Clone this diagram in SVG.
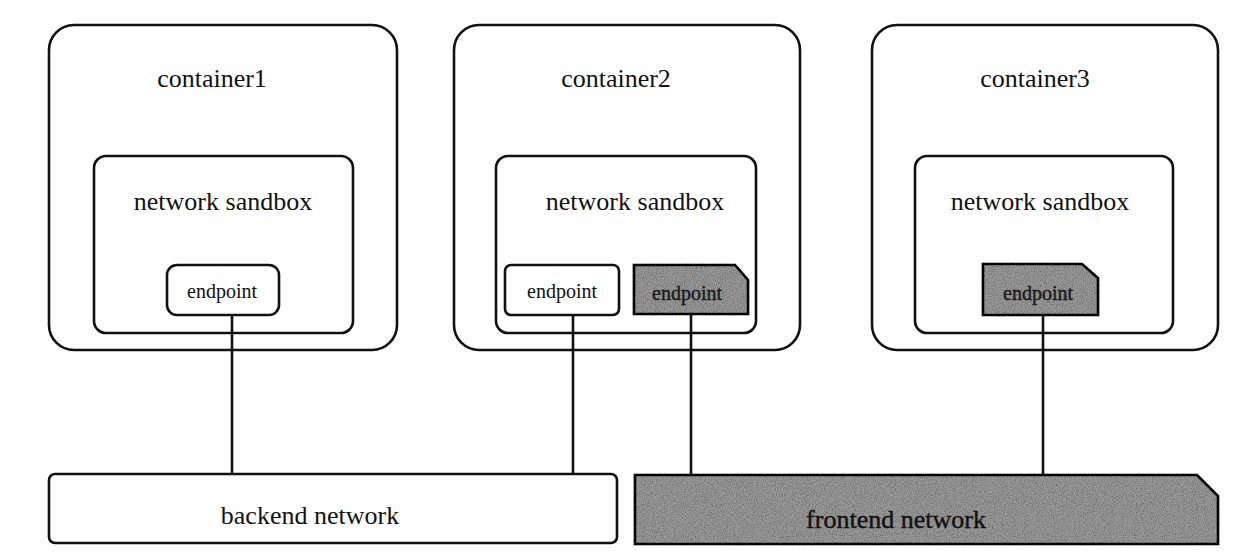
<svg xmlns="http://www.w3.org/2000/svg" width="1238" height="560" viewBox="0 0 1238 560">
<style>
.box{fill:#fff;stroke:#111;stroke-width:2.6}
.dark{fill:#9a9a9a;stroke:#111;stroke-width:2.6}
.wire{stroke:#111;stroke-width:2.6;fill:none}
.lbl{font-family:"Liberation Serif","Times New Roman",serif;font-size:26px;fill:#111;text-anchor:middle}
.ep{font-family:"Liberation Serif","Times New Roman",serif;font-size:20px;fill:#111;text-anchor:middle}
.epd{font-family:"Liberation Serif","Times New Roman",serif;font-size:20px;fill:#1a1a1a;stroke:#1a1a1a;stroke-width:0.4;text-anchor:middle}
</style>
<defs>
<filter id="grain" x="-5%" y="-5%" width="110%" height="110%">
<feTurbulence type="fractalNoise" baseFrequency="0.9" numOctaves="2" seed="3" result="n"/>
<feColorMatrix in="n" type="matrix" values="0 0 0 0 0  0 0 0 0 0  0 0 0 0 0  1.3 0 0 0 -0.5" result="a"/>
<feComposite in="a" in2="SourceGraphic" operator="in" result="s"/>
<feMerge><feMergeNode in="SourceGraphic"/><feMergeNode in="s"/></feMerge>
</filter>
</defs>
<rect width="1238" height="560" fill="#fff"/>

<g id="container1">
<rect class="box" x="49" y="25" width="348" height="325" rx="25"/>
<text class="lbl" x="212" y="87">container1</text>
</g>
<g id="sandbox1">
<rect class="box" x="94" y="156" width="259" height="177" rx="12"/>
<text class="lbl" x="223" y="210">network sandbox</text>
</g>
<g id="endpoint1">
<rect class="box" x="167" y="265" width="112" height="50" rx="10"/>
<text class="ep" x="222" y="298">endpoint</text>
</g>

<g id="container2">
<rect class="box" x="454" y="25" width="346" height="325" rx="25"/>
<text class="lbl" x="616" y="87">container2</text>
</g>
<g id="sandbox2">
<rect class="box" x="496" y="156" width="260" height="177" rx="12"/>
<text class="lbl" x="635" y="210">network sandbox</text>
</g>
<g id="endpoint2a">
<rect class="box" x="505" y="265" width="114" height="50" rx="6"/>
<text class="ep" x="562" y="298">endpoint</text>
</g>
<g id="endpoint2b">
<path class="dark" filter="url(#grain)" d="M634 265 H735 L748 280 V314 H634 Z"/>
<text class="epd" x="687" y="300">endpoint</text>
</g>

<g id="container3">
<rect class="box" x="872" y="25" width="346" height="325" rx="25"/>
<text class="lbl" x="1035" y="87">container3</text>
</g>
<g id="sandbox3">
<rect class="box" x="915" y="156" width="258" height="177" rx="12"/>
<text class="lbl" x="1040" y="210">network sandbox</text>
</g>
<g id="endpoint3">
<path class="dark" filter="url(#grain)" d="M983 264 H1082 L1098 278 V315 H983 Z"/>
<text class="epd" x="1038" y="300">endpoint</text>
</g>

<g id="connectors">
<line class="wire" x1="232" y1="315" x2="232" y2="474"/>
<line class="wire" x1="573" y1="315" x2="573" y2="474"/>
<line class="wire" x1="691" y1="314" x2="691" y2="475"/>
<line class="wire" x1="1043" y1="315" x2="1043" y2="475"/>
</g>

<g id="backend">
<rect class="box" x="49" y="474" width="568" height="69" rx="6"/>
<text class="lbl" x="310" y="524">backend network</text>
</g>
<g id="frontend">
<path class="dark" filter="url(#grain)" d="M635 475 H1197 L1218 496 V544 H635 Z"/>
<text class="lbl" x="896" y="528" style="stroke:#111;stroke-width:0.4">frontend network</text>
</g>
</svg>
